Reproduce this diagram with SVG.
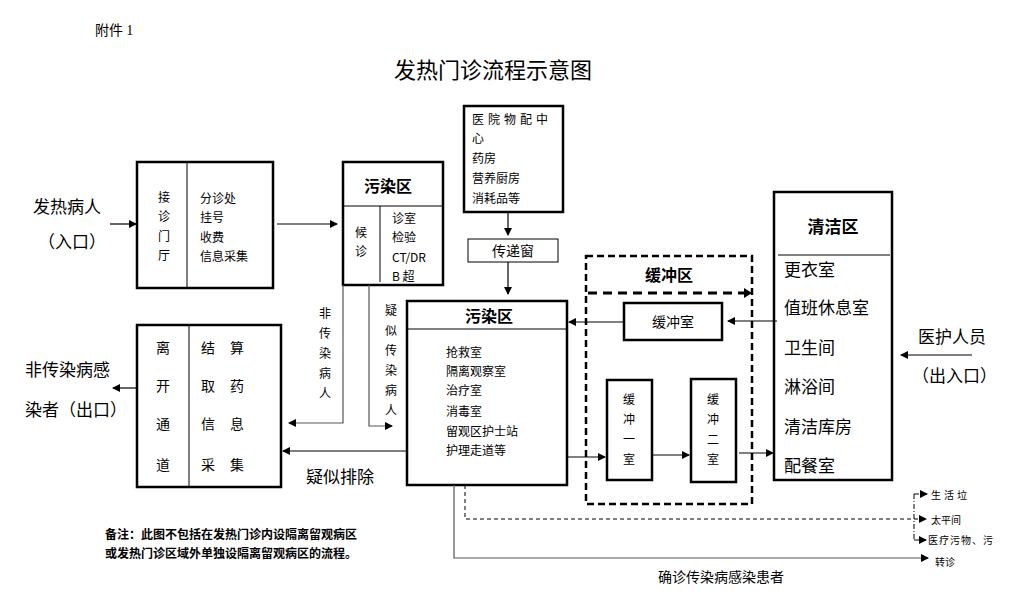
<svg xmlns="http://www.w3.org/2000/svg" width="1025" height="603" viewBox="0 0 1025 603">
<style>
text{font-family:"Noto Sans CJK SC","Liberation Serif",serif;fill:#000}
.s{font-size:12px}.m{font-size:14px}.l{font-size:17px}.b{font-weight:bold}
.box{fill:#fff;stroke:#000;stroke-width:2.5}
.thin{fill:none;stroke:#000;stroke-width:1}
.ln{fill:none;stroke:#000;stroke-width:1.2}
.gr{fill:none;stroke:#555;stroke-width:1.2}
</style>
<defs><marker id="a" markerWidth="8" markerHeight="8" refX="7" refY="4" orient="auto" markerUnits="userSpaceOnUse"><path d="M0,0L8,4L0,8z" fill="#000"/></marker></defs>
<rect width="1025" height="603" fill="#fff"/>
<text x="95" y="35" class="m">附件 <tspan font-family="Liberation Serif">1</tspan></text>
<text x="493" y="78" font-size="22" text-anchor="middle">发热门诊流程示意图</text>
<text x="33" y="213" class="l">发热病人</text>
<text x="38" y="248" class="l">（入口）</text>
<text x="25" y="376" class="l">非传染病感</text>
<text x="25" y="416" class="l">染者（出口）</text>
<text x="918" y="343" class="l">医护人员</text>
<text x="912" y="382" class="l">（出入口）</text>
<g id="n1"><rect class="box" x="137" y="162" width="136" height="126"/><line class="thin" x1="187" y1="162" x2="187" y2="288"/>
<text class="s" x="164" y="202" text-anchor="middle">接</text><text class="s" x="164" y="221" text-anchor="middle">诊</text><text class="s" x="164" y="241" text-anchor="middle">门</text><text class="s" x="164" y="260" text-anchor="middle">厅</text>
<text class="s" x="200" y="203">分诊处</text><text class="s" x="200" y="222">挂号</text><text class="s" x="200" y="242">收费</text><text class="s" x="200" y="261">信息采集</text></g>
<g id="n2"><rect class="box" x="343" y="162" width="100" height="123"/><line class="thin" x1="343" y1="206" x2="443" y2="206"/><line class="thin" x1="380" y1="206" x2="380" y2="282"/>
<text x="388" y="192" font-size="16" class="b" text-anchor="middle">污染区</text>
<text class="s" x="361" y="237" text-anchor="middle">候</text><text class="s" x="361" y="256" text-anchor="middle">诊</text>
<text class="s" x="392" y="223">诊室</text><text class="s" x="392" y="242">检验</text><text class="s" x="392" y="262">CT/DR</text><text class="s" x="392" y="281">B 超</text></g>
<g id="n3"><rect class="box" x="464" y="106" width="99" height="106"/>
<text class="s" x="472" y="124" letter-spacing="4">医院物配中</text><text class="s" x="472" y="143">心</text><text class="s" x="472" y="163">药房</text><text class="s" x="472" y="183">营养厨房</text><text class="s" x="472" y="203">消耗品等</text></g>
<g id="n4"><rect fill="#fff" stroke="#000" stroke-width="1" x="468" y="239" width="90" height="23"/><text class="m" x="513" y="256" text-anchor="middle">传递窗</text></g>
<g id="n5"><rect class="box" x="407" y="301" width="160" height="184"/><line class="thin" x1="407" y1="329" x2="567" y2="329"/>
<text x="489" y="322" font-size="16" class="b" text-anchor="middle">污染区</text>
<text class="s" x="446" y="357">抢救室</text><text class="s" x="446" y="376">隔离观察室</text><text class="s" x="446" y="395">治疗室</text><text class="s" x="446" y="416">消毒室</text><text class="s" x="446" y="436">留观区护士站</text><text class="s" x="446" y="455">护理走道等</text></g>
<g id="n6"><rect class="box" x="137" y="325" width="144" height="162"/><line class="thin" x1="189" y1="325" x2="189" y2="487"/>
<g class="m" text-anchor="middle"><text x="163" y="353">离</text><text x="163" y="391">开</text><text x="163" y="429">通</text><text x="163" y="470">道</text>
<text x="208" y="353">结</text><text x="237" y="353">算</text><text x="208" y="391">取</text><text x="237" y="391">药</text><text x="208" y="429">信</text><text x="237" y="429">息</text><text x="208" y="470">采</text><text x="237" y="470">集</text></g></g>
<g id="n7"><rect fill="none" stroke="#000" stroke-width="2.5" stroke-dasharray="7,4" x="586" y="256" width="166" height="248"/>
<text x="669" y="281" font-size="16" class="b" text-anchor="middle">缓冲区</text></g>
<g id="n8"><rect class="box" x="624" y="303" width="98" height="37"/><text class="m" x="673" y="327" text-anchor="middle">缓冲室</text></g>
<g id="n9"><rect class="box" x="607" y="380" width="45" height="100"/><g class="s" text-anchor="middle"><text x="629" y="404">缓</text><text x="629" y="424">冲</text><text x="629" y="444">一</text><text x="629" y="464">室</text></g></g>
<g id="n10"><rect class="box" x="691" y="379" width="45" height="103"/><g class="s" text-anchor="middle"><text x="713" y="404">缓</text><text x="713" y="424">冲</text><text x="713" y="444">二</text><text x="713" y="464">室</text></g></g>
<g id="n11"><rect class="box" x="774" y="192" width="118" height="288"/><line class="thin" x1="778" y1="255" x2="890" y2="255"/>
<text x="833" y="233" font-size="17" class="b" text-anchor="middle">清洁区</text>
<text class="l" x="784" y="276">更衣室</text><text class="l" x="784" y="314">值班休息室</text><text class="l" x="784" y="354">卫生间</text><text class="l" x="784" y="393">淋浴间</text><text class="l" x="784" y="433">清洁库房</text><text class="l" x="784" y="472">配餐室</text></g>
<g id="connectors">
<line class="ln" x1="110" y1="224" x2="136" y2="224" marker-end="url(#a)"/>
<line class="ln" x1="277" y1="224" x2="337" y2="224" marker-end="url(#a)"/>
<line class="ln" x1="508" y1="212" x2="508" y2="235" marker-end="url(#a)"/>
<line class="ln" x1="508" y1="262" x2="508" y2="294" marker-end="url(#a)"/>
<polyline class="gr" points="343,285 343,423 289,423" marker-end="url(#a)"/>
<polyline class="gr" points="369,285 369,426 392,426" marker-end="url(#a)"/>
<line class="ln" x1="407" y1="451" x2="283" y2="451" marker-end="url(#a)"/>
<line class="ln" x1="137" y1="388" x2="113" y2="388" marker-end="url(#a)"/>
<line class="ln" x1="624" y1="322" x2="569" y2="322" marker-end="url(#a)"/>
<line class="ln" x1="777" y1="321" x2="728" y2="321" marker-end="url(#a)"/>
<line class="ln" x1="972" y1="355" x2="901" y2="355" marker-end="url(#a)"/>
<line stroke="#000" stroke-width="3" stroke-dasharray="9,6" x1="588" y1="293" x2="744" y2="293"/>
<path d="M744,288L752,293L744,298z" fill="#000"/>
<line class="ln" x1="567" y1="457" x2="605" y2="457" marker-end="url(#a)"/>
<line class="ln" x1="652" y1="455" x2="689" y2="455" marker-end="url(#a)"/>
<line class="ln" x1="739" y1="453" x2="773" y2="453" marker-end="url(#a)"/>
<polyline class="thin" stroke-dasharray="4,3" points="465,485 465,519 926,519" marker-end="url(#a)"/>
<line class="thin" stroke-dasharray="5,2,1,2" x1="914" y1="494" x2="914" y2="540"/>
<line class="thin" stroke-dasharray="5,2,1,2" x1="914" y1="494" x2="927" y2="494" marker-end="url(#a)"/>
<line class="thin" stroke-dasharray="5,2,1,2" x1="914" y1="540" x2="926" y2="540" marker-end="url(#a)"/>
<polyline class="gr" points="454,485 454,558 928,558" marker-end="url(#a)"/>
</g>
<text x="325" y="318" class="s" text-anchor="middle">非</text><text x="325" y="338" class="s" text-anchor="middle">传</text><text x="325" y="358" class="s" text-anchor="middle">染</text><text x="325" y="378" class="s" text-anchor="middle">病</text><text x="325" y="398" class="s" text-anchor="middle">人</text>
<text x="391" y="315" class="s" text-anchor="middle">疑</text><text x="391" y="335" class="s" text-anchor="middle">似</text><text x="391" y="355" class="s" text-anchor="middle">传</text><text x="391" y="375" class="s" text-anchor="middle">染</text><text x="391" y="395" class="s" text-anchor="middle">病</text><text x="391" y="415" class="s" text-anchor="middle">人</text>
<text x="306" y="483" class="l">疑似排除</text>
<text x="931" y="499" font-size="10" letter-spacing="3">生活垃</text>
<text x="931" y="524" font-size="10">太平间</text>
<text x="928" y="544" font-size="10" letter-spacing="1">医疗污物、污</text>
<text x="935" y="566" font-size="10">转诊</text>
<text x="658" y="582" class="m">确诊传染病感染患者</text>
<text x="105" y="539" class="s b">备注：此图不包括在发热门诊内设隔离留观病区</text>
<text x="105" y="558" class="s b">或发热门诊区域外单独设隔离留观病区的流程。</text>
</svg>
